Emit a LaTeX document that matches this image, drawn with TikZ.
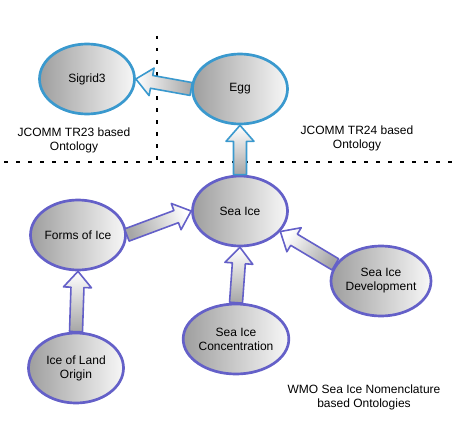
\documentclass[tikz,border=0pt]{standalone}
\usepackage{fontspec}
\setmainfont{Liberation Sans}
\usetikzlibrary{shapes.geometric,calc}
\definecolor{topblue}{HTML}{3A99CE}
\definecolor{botpurple}{HTML}{6460C8}
\tikzset{
  lbl/.style={font=\fontsize{12}{14}\selectfont, align=center, text=black, inner sep=0pt},
  concept/.style={ellipse, lbl, minimum width=95pt, minimum height=70pt,
    line width=2.7pt, shading=axis, left color=black!38, right color=white!97!black},
  topc/.style={concept, draw=topblue},
  botc/.style={concept, draw=botpurple},
  barrow/.style={line width=1.6pt, line join=round,
    shading=axis, top color=white, bottom color=black!35},
  divider/.style={line width=2pt, dash pattern=on 3.5pt off 8.5pt}
}
% #1 tail anchor, #2 tip anchor, #3 outline colour, #4 shading angle
\newcommand\bArrow[4]{%
  \coordinate (hb) at ($(#2)!16pt!(#1)$);
  \path[barrow, draw=#3, shading angle=#4]
    ($(#1)!6.5pt!90:(#2)$) -- ($(hb)!6.5pt!90:(#2)$) -- ($(hb)!14pt!90:(#2)$)
    -- (#2) -- ($(hb)!14pt!-90:(#2)$) -- ($(hb)!6.5pt!-90:(#2)$)
    -- ($(#1)!6.5pt!-90:(#2)$) -- cycle;}
\begin{document}
\begin{tikzpicture}[x=1pt, y=-1pt]
  \useasboundingbox (0,0) rectangle (460,420);
  % dividers
  \coordinate (hL) at (4,162);
  \coordinate (hR) at (455,162);
  \coordinate (vT) at (157,36);
  \coordinate (vB) at (157,162);
  \draw[divider] (hL) -- (hR);
  \draw[divider] (vT) -- (vB);
  % region labels
  \node[lbl] (tr23) at (74,140) {JCOMM TR23 based\\Ontology};
  \node[lbl] (tr24) at (357,138) {JCOMM TR24 based\\Ontology};
  \node[lbl] (wmo) at (364,397) {WMO Sea Ice Nomenclature\\based Ontologies};
  % concepts
  \node[topc] (sigrid) at (87,79) {Sigrid3};
  \node[topc] (egg) at (240,89) {Egg};
  \node[botc] (seaice) at (240,211) {Sea Ice};
  \node[botc] (forms) at (78,235) {Forms of Ice};
  \node[botc] (land) at (76,368) {Ice of Land\\Origin};
  \node[botc] (conc) at (236,339) {Sea Ice\\Concentration};
  \node[botc] (dev) at (381,281) {Sea Ice\\Development};
  % block arrows
  \bArrow{egg.west}{sigrid.east}{topblue}{90}
  \bArrow{seaice.north}{egg.south}{topblue}{0}
  \bArrow{forms.east}{seaice.west}{botpurple}{-70}
  \bArrow{land.north}{forms.south}{botpurple}{0}
  \bArrow{conc.north}{seaice.south}{botpurple}{0}
  \bArrow{dev.160}{seaice.-27}{botpurple}{55}
\end{tikzpicture}
\end{document}
